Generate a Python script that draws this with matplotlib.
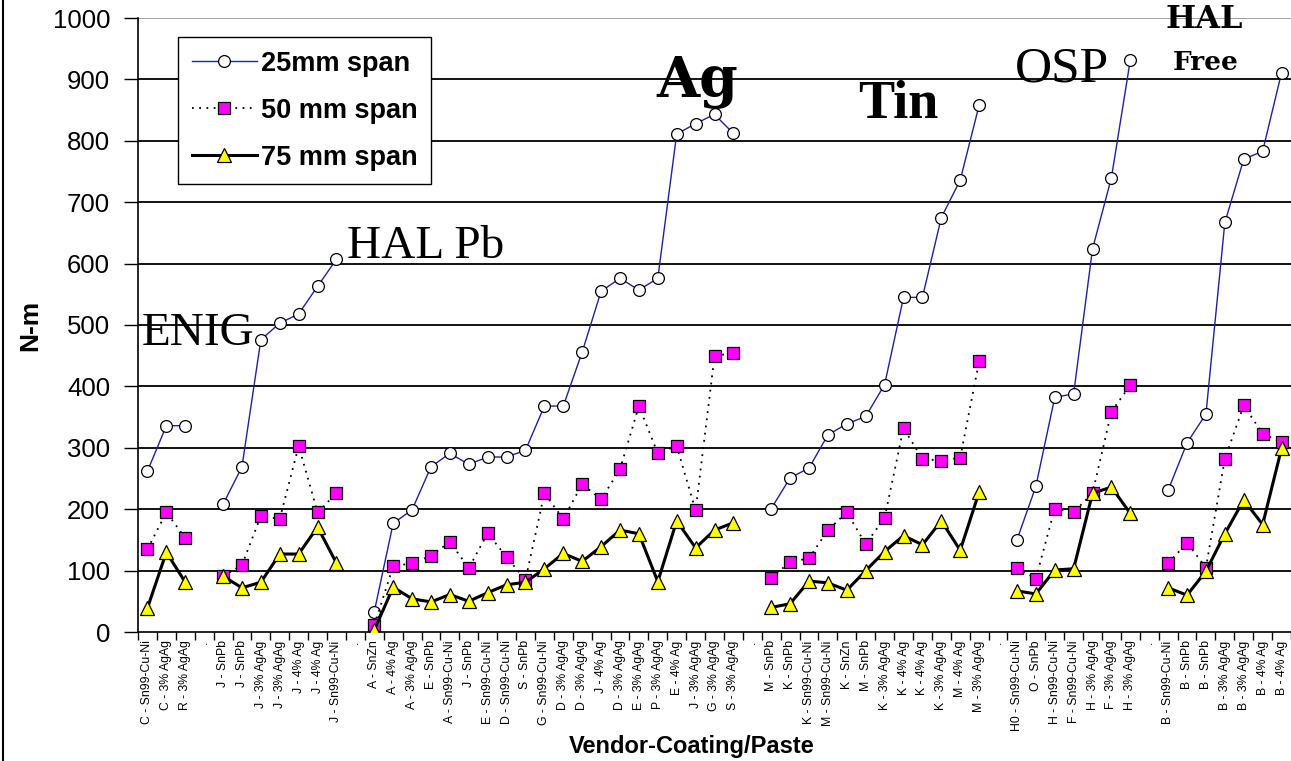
import numpy as np
import matplotlib
matplotlib.use("Agg")
import matplotlib.pyplot as plt
from matplotlib.lines import Line2D

nan = np.nan

# categories, "." marks the empty slot between coating groups
labels = ["C - Sn99-Cu-Ni", "C - 3% AgAg", "R - 3% AgAg", ".",
          "J - SnPb", "J - SnPb", "J - 3% AgAg", "J - 3% AgAg", "J - 4% Ag", "J - 4% Ag", "J - Sn99-Cu-Ni", ".",
          "A - SnZn", "A - 4% Ag", "A - 3% AgAg", "E - SnPb", "A - Sn99-Cu-Ni", "J - SnPb", "E - Sn99-Cu-Ni",
          "D - Sn99-Cu-Ni", "S - SnPb", "G - Sn99-Cu-Ni", "D - 3% AgAg", "D - 3% AgAg", "J - 4% Ag",
          "D - 3% AgAg", "E - 3% AgAg", "P - 3% AgAg", "E - 4% Ag", "J - 3% AgAg", "G - 3% AgAg", "S - 3% AgAg", ".",
          "M - SnPb", "K - SnPb", "K - Sn99-Cu-Ni", "M - Sn99-Cu-Ni", "K - SnZn", "M - SnPb", "K - 3% AgAg",
          "K - 4% Ag", "K - 4% Ag", "K - 3% AgAg", "M - 4% Ag", "M - 3% AgAg", ".",
          "H0 - Sn99-Cu-Ni", "O - SnPb", "H - Sn99-Cu-Ni", "F - Sn99-Cu-Ni", "H - 3% AgAg", "F - 3% AgAg", "H - 3% AgAg", ".",
          "B - Sn99-Cu-Ni", "B - SnPb", "B - SnPb", "B - 3% AgAg", "B - 3% AgAg", "B - 4% Ag", "B - 4% Ag"]

span25 = [262, 336, 336, nan,
          208, 269, 476, 503, 518, 563, 607, nan,
          33, 177, 199, 269, 291, 273, 285, 285, 296, 368, 368, 456, 555, 576, 557, 576, 811, 828, 843, 812, nan,
          201, 251, 267, 321, 339, 351, 403, 545, 545, 675, 736, 858, nan,
          150, 237, 382, 388, 624, 740, 932, nan,
          231, 308, 355, 667, 770, 783, 911]

span50 = [135, 195, 153, nan,
          91, 109, 189, 184, 303, 195, 226, nan,
          11, 107, 112, 124, 147, 104, 161, 122, 85, 226, 184, 241, 216, 265, 368, 291, 303, 198, 449, 455, nan,
          88, 114, 120, 166, 195, 143, 186, 332, 282, 279, 284, 441, nan,
          104, 87, 201, 195, 226, 359, 402, nan,
          112, 145, 105, 282, 369, 323, 309]

span75 = [39, 130, 81, nan,
          91, 72, 81, 127, 127, 171, 112, nan,
          3, 73, 54, 49, 61, 50, 64, 77, 81, 103, 128, 115, 139, 166, 160, 82, 181, 137, 166, 178, nan,
          40, 46, 83, 80, 68, 100, 131, 157, 142, 181, 133, 228, nan,
          67, 62, 101, 103, 226, 236, 193, nan,
          72, 60, 99, 160, 215, 175, 299]

# group names written over the chart: (text, x index, y value, size, weight, family)
groups = [("ENIG", 2.7, 467, 34, "normal", "Liberation Serif"),
          ("HAL Pb", 14.7, 609, 34, "normal", "Liberation Serif"),
          ("Ag", 29.1, 871, 40, "bold", "DejaVu Serif"),
          ("Tin", 39.7, 837, 39, "bold", "Liberation Serif"),
          ("OSP", 48.4, 896, 37, "normal", "Liberation Serif"),
          ("HAL", 55.9, 984, 23, "bold", "DejaVu Serif"),
          ("Free", 56.0, 915, 19, "bold", "DejaVu Serif")]

x = np.arange(len(labels))

fig = plt.figure(figsize=(12.91, 7.61), dpi=100)
ax = fig.add_axes([138/1291, 1-632/761, 1153/1291, 614/761])

for yv in range(100, 1000, 100):
    ax.axhline(yv, color="black", lw=1.3, zorder=0)
ax.axhline(1000, color="#999999", lw=1.3, zorder=0)

ax.plot(x, span25, color="#2020a0", lw=1.0, marker="o", ms=8.5, mfc="white",
        mec="black", mew=0.9, label="25mm span", zorder=3)
ax.plot(x, span50, color="black", lw=1.3, ls=(0, (1, 3)), marker="s", ms=9, mfc="#ff00ff",
        mec="black", mew=0.9, label="50 mm span", zorder=4)
ax.plot(x, span75, color="black", lw=2.2, marker="^", ms=10, mfc="#ffff00",
        mec="black", mew=0.9, label="75 mm span", zorder=5)

for txt, gx, gy, size, w, fam in groups:
    ax.text(gx, gy, txt, ha="center", va="baseline", fontsize=size, fontweight=w,
            family=fam, zorder=6)

ax.set_xlim(-0.5, len(labels) - 0.5)
ax.set_ylim(0, 1000)
ax.set_yticks(range(0, 1001, 100))
ax.tick_params(axis="y", labelsize=18.5, length=10, width=1, direction="out", pad=10)
for t in ax.get_yticklabels():
    t.set_family("Liberation Sans")

ax.set_xticks(x)
ax.set_xticklabels(labels, rotation=90, fontsize=8.8, family="Liberation Sans")
ax.set_xticks(np.arange(-0.5, len(labels), 1), minor=True)
ax.tick_params(axis="x", which="major", length=0, pad=6)
ax.tick_params(axis="x", which="minor", length=6, width=1, direction="out")

ax.spines["top"].set_visible(False)
ax.spines["right"].set_visible(False)
ax.spines["left"].set_linewidth(1.2)
ax.spines["bottom"].set_linewidth(1.2)

ax.set_ylabel("N-m", fontsize=19, fontweight="bold", family="Liberation Sans")
ax.yaxis.set_label_coords(-0.083, 0.5)
ax.set_xlabel("Vendor-Coating/Paste", fontsize=17, fontweight="bold", family="Liberation Sans")
ax.xaxis.set_label_coords(0.48, -0.168)

leg = ax.legend(loc="upper left", bbox_to_anchor=(0.0347, 0.969), borderaxespad=0, fancybox=False,
                edgecolor="black", framealpha=1,
                prop={"family": "Liberation Sans", "weight": "bold", "size": 19.5},
                handlelength=2.4, borderpad=0.5, labelspacing=0.78, handletextpad=0.15)
leg.get_frame().set_linewidth(1.0)

# thin frame line at the left edge of the picture
fig.add_artist(Line2D([3/1291, 3/1291], [0, 1], transform=fig.transFigure, color="black", lw=1.5))

fig.savefig("out.png", dpi=100)
